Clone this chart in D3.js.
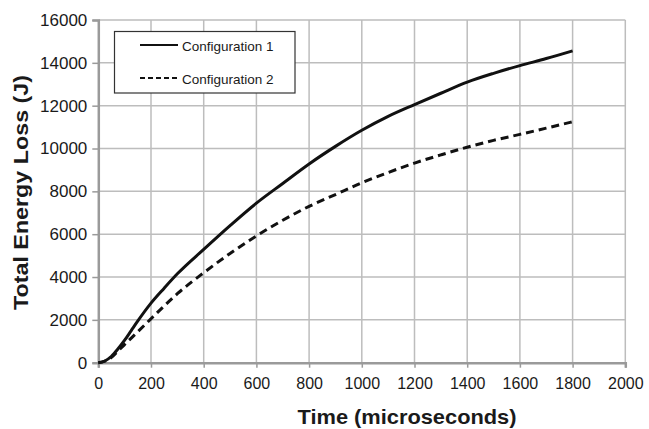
<!DOCTYPE html>
<html><head><meta charset="utf-8">
<script src="https://cdn.jsdelivr.net/npm/d3@7"></script>
<style>
body{margin:0;background:#fff;}
svg{display:block;font-family:"Liberation Sans",Arial,Helvetica,sans-serif;}
</style></head>
<body><svg id="c" width="649" height="429"></svg>
<script>
const xTicks = [0,200,400,600,800,1000,1200,1400,1600,1800,2000];
const yTicks = [0,2000,4000,6000,8000,10000,12000,14000,16000];
const seriesNames = ["Configuration 1","Configuration 2"];
const time = [0,25,50,75,100,125,150,200,250,300,400,500,600,700,800,900,1000,1100,1200,1300,1400,1500,1600,1700,1800];
const config1 = [0,80,300,650,1050,1500,1950,2780,3480,4150,5290,6400,7450,8370,9280,10100,10850,11500,12050,12580,13100,13510,13870,14200,14560];
const config2 = [0,70,250,550,850,1150,1450,2050,2650,3220,4200,5100,5920,6650,7300,7850,8400,8880,9320,9700,10060,10380,10660,10950,11250];

const svg = d3.select("#c");
const x = d3.scaleLinear().domain([0,2000]).range([98.3,625.3]);
const y = d3.scaleLinear().domain([0,16000]).range([362.7,20]);

const gridColor="#bdbdbd", axisColor="#9a9a9a";
svg.append("g").selectAll("line").data(xTicks.slice(1)).join("line")
  .attr("x1",d=>x(d)).attr("x2",d=>x(d)).attr("y1",y(0)).attr("y2",y(16000))
  .attr("stroke",gridColor).attr("stroke-width",1.5);
svg.append("g").selectAll("line").data(yTicks.slice(1)).join("line")
  .attr("x1",x(0)).attr("x2",x(2000)).attr("y1",d=>y(d)).attr("y2",d=>y(d))
  .attr("stroke",gridColor).attr("stroke-width",1.5);

const xa = svg.append("g").attr("transform",`translate(0,${y(0)})`)
  .call(d3.axisBottom(x).tickValues(xTicks).tickSize(5).tickPadding(10).tickFormat(d3.format("d")));
const ya = svg.append("g").attr("transform",`translate(${x(0)},0)`)
  .call(d3.axisLeft(y).tickValues(yTicks).tickSize(6).tickPadding(5).tickFormat(d3.format("d")));
[xa,ya].forEach(a=>{
  a.select(".domain").attr("stroke",axisColor).attr("stroke-width",2.5);
  a.selectAll(".tick line").attr("stroke",axisColor).attr("stroke-width",1.5);
  a.selectAll("text").attr("fill","#1a1a1a").style("font-family","'Liberation Sans',Arial,sans-serif");
});
xa.selectAll("text").style("font-size","16px");
ya.selectAll("text").style("font-size","17px");

const line = d3.line().x(d=>x(d[0])).y(d=>y(d[1])).curve(d3.curveMonotoneX);
const d1 = time.map((t,i)=>[t,config1[i]]);
const d2 = time.map((t,i)=>[t,config2[i]]);
svg.append("path").datum(d2).attr("d",line).attr("fill","none")
  .attr("stroke","#111").attr("stroke-width",3).attr("stroke-dasharray","8,5");
svg.append("path").datum(d1).attr("d",line).attr("fill","none")
  .attr("stroke","#111").attr("stroke-width",3);

const lg = svg.append("g");
lg.append("rect").attr("x",114.5).attr("y",31.5).attr("width",180.5).attr("height",61.5)
  .attr("fill","#fff").attr("stroke","#333").attr("stroke-width",1.2);
const rows = [{name:seriesNames[0],dash:null,ly:45,ty:51},{name:seriesNames[1],dash:"5,3",ly:78,ty:84}];
rows.forEach(r=>{
  const l = lg.append("line").attr("x1",140).attr("x2",178).attr("y1",r.ly).attr("y2",r.ly)
    .attr("stroke","#111").attr("stroke-width",2.2);
  if(r.dash) l.attr("stroke-dasharray",r.dash);
  lg.append("text").attr("x",182).attr("y",r.ty).attr("font-size","13.5px").attr("fill","#1a1a1a").text(r.name);
});

svg.append("text").attr("x",407).attr("y",424).attr("text-anchor","middle")
  .attr("font-size","21px").attr("font-weight","bold").attr("fill","#1a1a1a")
  .attr("textLength",219).attr("lengthAdjust","spacingAndGlyphs").text("Time (microseconds)");
svg.append("text").attr("transform","translate(28,192.5) rotate(-90)").attr("text-anchor","middle")
  .attr("font-size","20px").attr("font-weight","bold").attr("fill","#1a1a1a")
  .attr("textLength",235).attr("lengthAdjust","spacingAndGlyphs").text("Total Energy Loss (J)");
</script></body></html>
